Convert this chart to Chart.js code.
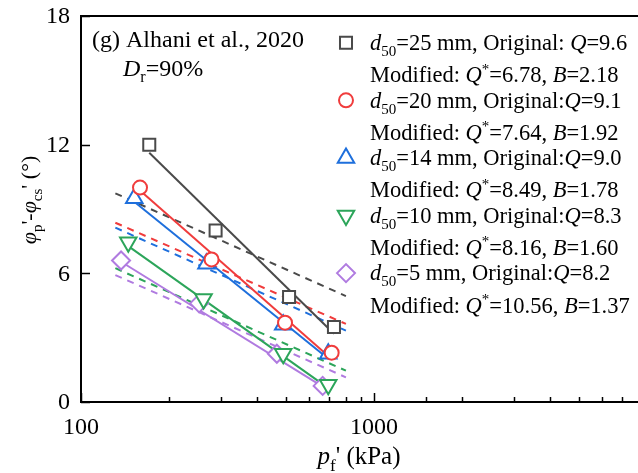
<!DOCTYPE html>
<html lang="en">
  <head>
    <meta charset="UTF-8" />
    <title>Friction angle vs confining pressure</title>
    <script src="https://cdn.jsdelivr.net/npm/chart.js"></script>
    <style>
      html, body { margin: 0; padding: 0; overflow: hidden; background: #fff; }
      canvas { display: block; }
    </style>
  </head>
  <body>
    <canvas id="phiChart" width="680" height="473"></canvas>
    <script>
      // measured points: pf' (kPa) and phi_p' - phi_cs' (deg)
      var pf25 = [171, 288, 513, 730];
      var phi25 = [12.0, 8.0, 4.9, 3.5];
      var pf20 = [159, 279, 497, 717];
      var phi20 = [10.0, 6.65, 3.7, 2.3];
      var pf14 = [152, 268, 490, 698];
      var phi14 = [9.5, 6.45, 3.6, 2.25];
      var pf10 = [145, 262, 490, 698];
      var phi10 = [7.45, 4.8, 2.25, 0.8];
      var pf5 = [137, 253, 466, 668];
      var phi5 = [6.6, 4.6, 2.25, 0.75];

      // original fits (solid), end points
      var fit25 = [[171, 730], [11.62, 3.18]];
      var fit20 = [[159, 717], [9.86, 2.0]];
      var fit14 = [[152, 698], [9.34, 2.02]];
      var fit10 = [[145, 698], [7.27, 0.65]];
      var fit5 = [[137, 668], [6.54, 0.72]];

      // modified fits (dashed), end points
      var modPf = [131, 802];
      var mod25 = [9.73, 4.94];
      var mod20 = [8.36, 3.64];
      var mod14 = [8.13, 3.33];
      var mod10 = [6.24, 1.46];
      var mod5 = [5.92, 1.15];

      // legend text values
      var sizes = ["25", "20", "14", "10", "5"];
      var origQ = ["9.6", "9.1", "9.0", "8.3", "8.2"];
      var origSep = [" ", "", "", "", ""];
      var modQ = ["6.78", "7.64", "8.49", "8.16", "10.56"];
      var modB = ["2.18", "1.92", "1.78", "1.60", "1.37"];

      var yTicks = [0, 6, 12, 18];
      var xLabels = [100, 1000];

      var colors = ["#4a4a4a", "#f03c3c", "#1e6fdc", "#2ca55a", "#b07be0"];
      var styles = ["rect", "circle", "triangle", "triangle", "rectRot"];
      var rotations = [0, 0, 0, 180, 0];
      var radii = [8.5, 7, 9.5, 9.5, 9];

      var groups = [
        { pf: pf25, phi: phi25, fit: fit25, mod: mod25 },
        { pf: pf20, phi: phi20, fit: fit20, mod: mod20 },
        { pf: pf14, phi: phi14, fit: fit14, mod: mod14 },
        { pf: pf10, phi: phi10, fit: fit10, mod: mod10 },
        { pf: pf5, phi: phi5, fit: fit5, mod: mod5 },
      ];

      function pairs(xs, ys) {
        return xs.map(function (x, i) {
          return { x: x, y: ys[i] };
        });
      }

      var datasets = [];
      groups.forEach(function (g, i) {
        datasets.push({
          data: pairs(g.pf, g.phi),
          showLine: false,
          pointStyle: styles[i],
          pointRotation: rotations[i],
          pointRadius: radii[i],
          borderColor: colors[i],
          backgroundColor: "#fff",
          borderWidth: 2,
          order: 0,
        });
        datasets.push({
          data: pairs(g.fit[0], g.fit[1]),
          showLine: true,
          pointRadius: 0,
          borderColor: colors[i],
          borderWidth: 2,
          order: 1,
        });
        datasets.push({
          data: pairs(modPf, g.mod),
          showLine: true,
          pointRadius: 0,
          borderColor: colors[i],
          borderWidth: 2,
          borderDash: [7, 6],
          order: 2,
        });
      });

      var SERIF = '"Liberation Serif", "Times New Roman", serif';

      function fontFor(p, size) {
        var s = p.sub || p.sup ? Math.round(size * 0.68) : size;
        return (p.i ? "italic " : "") + s + "px " + SERIF;
      }

      // draws a run of mixed italic / sub / superscript text
      function rich(ctx, parts, x, y, size, align) {
        var w = 0;
        parts.forEach(function (p) {
          ctx.font = fontFor(p, size);
          w += ctx.measureText(p.t).width;
        });
        var cx = align === "center" ? x - w / 2 : x;
        ctx.textAlign = "left";
        ctx.textBaseline = "alphabetic";
        parts.forEach(function (p) {
          ctx.font = fontFor(p, size);
          var dy = p.sub ? size * 0.27 : p.sup ? -size * 0.38 : 0;
          ctx.fillText(p.t, cx, y + dy);
          cx += ctx.measureText(p.t).width;
        });
      }

      var decorations = {
        id: "decorations",
        afterDraw: function (chart) {
          var ctx = chart.ctx;
          var area = chart.chartArea;
          var xs = chart.scales.x;
          var ys = chart.scales.y;
          ctx.save();
          ctx.strokeStyle = "#000";
          ctx.lineWidth = 2;

          // top frame line
          ctx.beginPath();
          ctx.moveTo(area.left - 1, area.top);
          ctx.lineTo(area.right, area.top);
          ctx.stroke();

          // inward ticks
          ctx.lineWidth = 1.5;
          xs.ticks.forEach(function (t) {
            var px = Math.round(xs.getPixelForValue(t.value)) + 0.5;
            var major = Math.abs(Math.log10(t.value) % 1) < 1e-6;
            ctx.beginPath();
            ctx.moveTo(px, area.bottom);
            ctx.lineTo(px, area.bottom - (major ? 9 : 5));
            ctx.stroke();
          });
          yTicks.forEach(function (v) {
            var py = Math.round(ys.getPixelForValue(v)) + 0.5;
            ctx.beginPath();
            ctx.moveTo(area.left, py);
            ctx.lineTo(area.left + 9, py);
            ctx.stroke();
          });

          // tick labels
          ctx.fillStyle = "#000";
          ctx.font = "24px " + SERIF;
          ctx.textAlign = "right";
          ctx.textBaseline = "middle";
          yTicks.forEach(function (v) {
            ctx.fillText(String(v), area.left - 11, ys.getPixelForValue(v) + 1);
          });
          ctx.textAlign = "center";
          ctx.textBaseline = "alphabetic";
          xLabels.forEach(function (v) {
            ctx.fillText(String(v), xs.getPixelForValue(v), area.bottom + 32);
          });

          // panel caption
          rich(ctx, [{ t: "(g) Alhani et al., 2020" }], 92, 47, 24);
          rich(ctx, [{ t: "D", i: 1 }, { t: "r", sub: 1 }, { t: "=90%" }], 123, 76, 24);

          // legend
          var fs = 22.5;
          var lx = 346;
          var tx = 370;
          for (var i = 0; i < sizes.length; i++) {
            var my = 42.7 + i * 57.6;
            ctx.fillStyle = "#fff";
            ctx.strokeStyle = colors[i];
            ctx.lineWidth = 2;
            Chart.helpers.drawPoint(
              ctx,
              { pointStyle: styles[i], rotation: rotations[i], radius: radii[i], borderWidth: 2 },
              lx,
              my
            );
            ctx.fillStyle = "#000";
            rich(
              ctx,
              [
                { t: "d", i: 1 },
                { t: "50", sub: 1 },
                { t: "=" + sizes[i] + " mm, Original:" + origSep[i] },
                { t: "Q", i: 1 },
                { t: "=" + origQ[i] },
              ],
              tx,
              my + 7.3,
              fs
            );
            rich(
              ctx,
              [
                { t: "Modified: " },
                { t: "Q", i: 1 },
                { t: "*", sup: 1 },
                { t: "=" + modQ[i] + ", " },
                { t: "B", i: 1 },
                { t: "=" + modB[i] },
              ],
              tx,
              my + 39.5,
              fs
            );
          }

          // axis titles
          rich(
            ctx,
            [{ t: "p", i: 1 }, { t: "f", sub: 1 }, { t: "' (kPa)" }],
            359,
            464,
            25,
            "center"
          );
          ctx.save();
          ctx.translate(36, 200);
          ctx.rotate(-Math.PI / 2);
          rich(
            ctx,
            [
              { t: "\u03c6", i: 1 },
              { t: "p", sub: 1 },
              { t: "'-" },
              { t: "\u03c6", i: 1 },
              { t: "cs", sub: 1 },
              { t: "' (\u00b0)" },
            ],
            0,
            0,
            22,
            "center"
          );
          ctx.restore();
          ctx.restore();
        },
      };

      var ctx = document.getElementById("phiChart").getContext("2d");
      var phiChart = new Chart(ctx, {
        type: "scatter",
        data: { datasets: datasets },
        options: {
          responsive: false,
          animation: false,
          layout: { padding: { left: 0, top: 16, right: 13, bottom: 0 } },
          plugins: { legend: { display: false }, tooltip: { enabled: false } },
          scales: {
            x: {
              type: "logarithmic",
              min: 100,
              max: 10000,
              afterFit: function (scale) {
                scale.height = 71;
              },
              grid: { display: false, drawTicks: false },
              border: { display: true, color: "#000", width: 2 },
              ticks: { display: false, autoSkip: false },
            },
            y: {
              min: 0,
              max: 18,
              afterFit: function (scale) {
                scale.width = 81;
              },
              grid: { display: false, drawTicks: false },
              border: { display: true, color: "#000", width: 2 },
              ticks: { display: false, stepSize: 6 },
            },
          },
        },
        plugins: [decorations],
      });
    </script>
  </body>
</html>
